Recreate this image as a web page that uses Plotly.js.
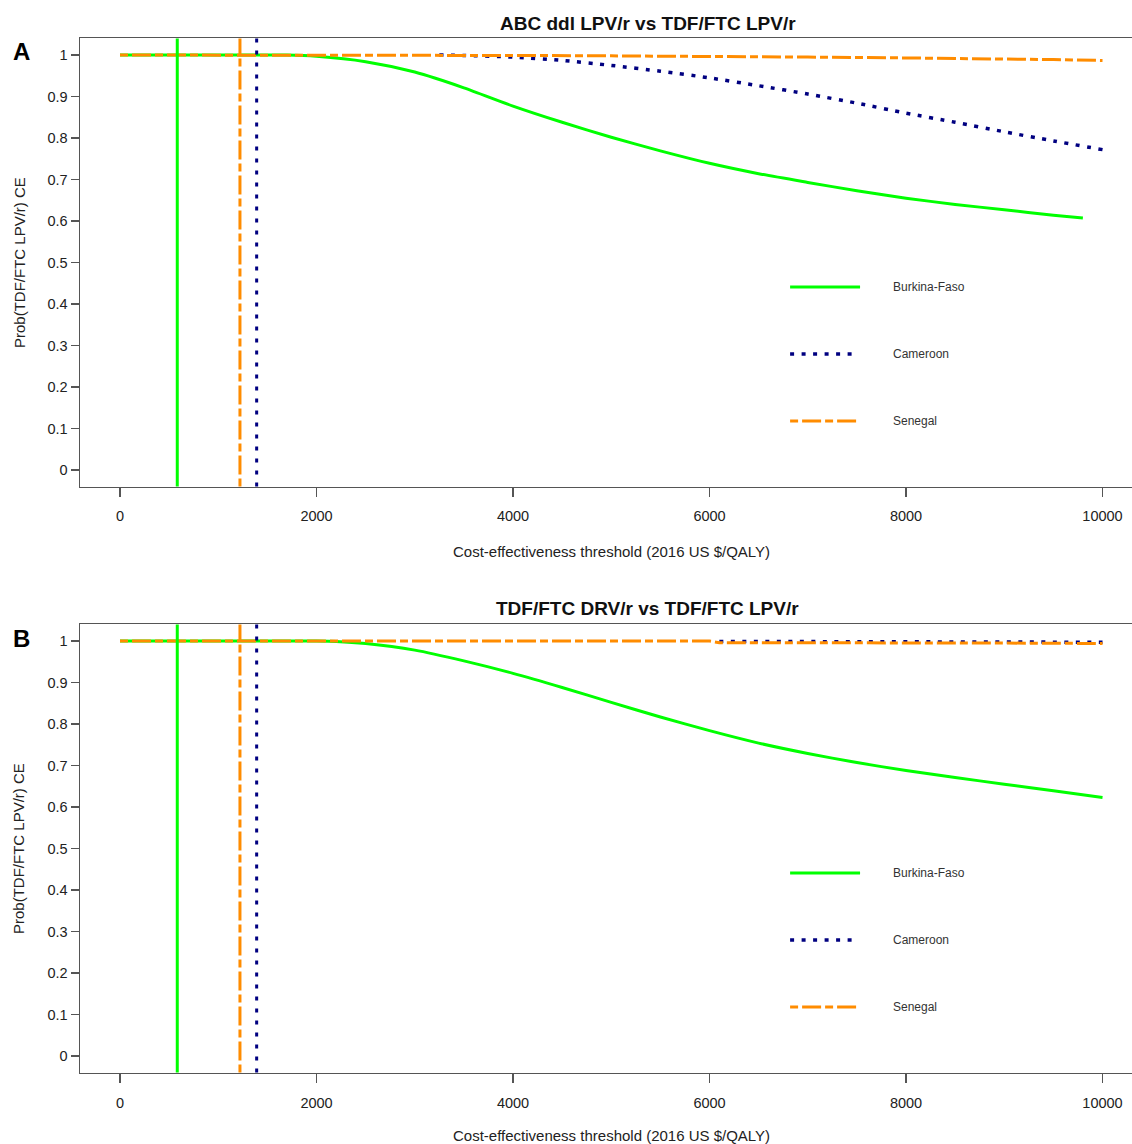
<!DOCTYPE html>
<html>
<head>
<meta charset="utf-8">
<script src="https://cdn.plot.ly/plotly-3.0.1.min.js"></script>
<style>
  html, body { margin: 0; padding: 0; background: #fff; }
  #chart { width: 1132px; height: 1144px; }
</style>
</head>
<body>
<div id="chart"></div>
<script>
// ---------- data ----------
const countries = ["Burkina-Faso", "Cameroon", "Senegal"];
const gdpThreshold = [583, 1391, 1221];   // vertical reference lines (US $)

const xTicks = [0, 2000, 4000, 6000, 8000, 10000];
const yTicks = [0, 0.1, 0.2, 0.3, 0.4, 0.5, 0.6, 0.7, 0.8, 0.9, 1];

const panelTitles = ["ABC ddl LPV/r vs TDF/FTC LPV/r", "TDF/FTC DRV/r vs TDF/FTC LPV/r"];
const panelLetters = ["A", "B"];

// Panel A
const thrA_BF = [0, 500, 1000, 1500, 1700, 2000, 2500, 3000, 3500, 4000, 4500, 5000, 5500, 6000, 6500, 7000, 7500, 8000, 8500, 9000, 9500, 9800];
const probA_BF = [1, 1, 1, 1, 1, 0.997, 0.984, 0.959, 0.921, 0.877, 0.838, 0.802, 0.769, 0.739, 0.714, 0.693, 0.673, 0.655, 0.640, 0.627, 0.614, 0.607];
const thrA_CM = [3250, 3500, 4000, 4500, 5000, 5500, 6000, 6500, 7000, 7500, 8000, 8500, 9000, 9500, 10000];
const probA_CM = [1, 0.999, 0.995, 0.987, 0.975, 0.961, 0.945, 0.926, 0.906, 0.884, 0.860, 0.838, 0.815, 0.793, 0.772];
const thrA_SN = [0, 1000, 2000, 3000, 4000, 5000, 6000, 7000, 8000, 9000, 9500, 10000];
const probA_SN = [1, 1, 1, 1, 0.999, 0.998, 0.997, 0.995, 0.993, 0.991, 0.989, 0.987];

// Panel B
const thrB_BF = [0, 500, 1000, 1500, 2000, 2200, 2500, 3000, 3500, 4000, 4500, 5000, 5500, 6000, 6500, 7000, 7500, 8000, 8500, 9000, 9500, 10000];
const probB_BF = [1, 1, 1, 1, 1, 0.999, 0.994, 0.978, 0.952, 0.922, 0.888, 0.852, 0.817, 0.784, 0.754, 0.729, 0.707, 0.688, 0.671, 0.655, 0.639, 0.623];
const thrB_CM = [6100, 7000, 8000, 9000, 10000];
const probB_CM = [0.999, 0.999, 0.999, 0.998, 0.997];
const thrB_SN = [0, 2000, 4000, 6000, 6100, 7000, 8000, 9000, 10000];
const probB_SN = [1, 1, 1, 1, 0.996, 0.996, 0.995, 0.995, 0.994];

// ---------- styles ----------
const GREEN = "#00FF00", NAVY = "#000080", ORANGE = "#FF8C00";
const styles = [
  { color: GREEN, width: 3, dash: "solid", shape: "spline" },
  { color: NAVY, width: 3.5, dash: "4px,7.5px", shape: "spline" },
  { color: ORANGE, width: 3, dash: "8px,4px,19px,4px", shape: "linear" }
];
const FONT = "Liberation Sans, Arial, sans-serif";

// page geometry (pixels)
const W = 1132, H = 1144, ML = 80;
const px2paperX = px => (px - ML) / (W - ML);
const px2paperY = py => 1 - py / H;

const panelData = [
  [[thrA_BF, probA_BF], [thrA_CM, probA_CM], [thrA_SN, probA_SN]],
  [[thrB_BF, probB_BF], [thrB_CM, probB_CM], [thrB_SN, probB_SN]]
];

const traces = [];
panelData.forEach((series, p) => {
  series.forEach((s, i) => {
    const shape = (p === 1 && i === 1) ? "linear" : styles[i].shape;
    traces.push({
      type: "scatter", mode: "lines",
      x: s[0], y: s[1],
      name: countries[i],
      xaxis: p === 0 ? "x" : "x2",
      yaxis: p === 0 ? "y" : "y2",
      line: { color: styles[i].color, width: styles[i].width, dash: styles[i].dash,
              shape: shape, smoothing: 0.7 },
      showlegend: false, hoverinfo: "skip"
    });
  });
});

const axisCommon = {
  showgrid: false, zeroline: false,
  showline: true, linecolor: "#555", linewidth: 1.5,
  ticks: "outside", tickcolor: "#555", tickwidth: 1.3,
  tickfont: { family: FONT, size: 14.5, color: "#222" }
};
const xAxis = Object.assign({}, axisCommon, {
  range: [-407, 10300], tickvals: xTicks, tickformat: "d",
  ticklen: 9, mirror: true, ticklabelstandoff: 7
});
const yAxis = Object.assign({}, axisCommon, {
  range: [-0.04, 1.04], tickvals: yTicks, ticklen: 8, mirror: false,
  ticklabelstandoff: 0
});

const yDomains = [[0.5747, 0.9664], [0.0624, 0.4542]];
const panelOffset = [0, 586];

const shapes = [];
const annotations = [];
[0, 1].forEach(p => {
  const xr = p === 0 ? "x" : "x2";
  const yr = p === 0 ? "y" : "y2";
  // vertical threshold lines
  gdpThreshold.forEach((g, i) => {
    shapes.push({
      type: "line", xref: xr, yref: yr + " domain",
      x0: g, x1: g, y0: 0, y1: 1,
      line: { color: styles[i].color, width: styles[i].width - (i === 1 ? 0.5 : 0),
              dash: i === 1 ? "4px,8px" : styles[i].dash }
    });
  });
  // manual legend
  const legY = [0.4453, 0.2958, 0.1464];
  const legX1 = [0.7415, 0.736, 0.738];
  countries.forEach((c, i) => {
    shapes.push({
      type: "line", xref: xr + " domain", yref: yr + " domain",
      x0: 0.675, x1: legX1[i], y0: legY[i], y1: legY[i],
      line: { color: styles[i].color, width: styles[i].width, dash: styles[i].dash }
    });
    annotations.push({
      xref: xr + " domain", yref: yr + " domain",
      x: 0.771, y: legY[i], xanchor: "left", yanchor: "middle",
      text: c, showarrow: false,
      font: { family: FONT, size: 12, color: "#333" }
    });
  });
  const off = panelOffset[p];
  // panel title
  annotations.push({
    xref: "paper", yref: "paper",
    x: px2paperX(647.5), y: px2paperY(23 + off), xanchor: "center", yanchor: "middle",
    text: "<b>" + panelTitles[p] + "</b>", showarrow: false,
    font: { family: FONT, size: 19, color: "#111" }
  });
  // panel letter
  annotations.push({
    xref: "paper", yref: "paper",
    x: px2paperX(21), y: px2paperY(52 + off), xanchor: "center", yanchor: "middle",
    text: "<b>" + panelLetters[p] + "</b>", showarrow: false,
    font: { family: FONT, size: 24, color: "#000" }
  });
  // x axis title
  annotations.push({
    xref: "paper", yref: "paper",
    x: px2paperX(611), y: px2paperY((p === 0 ? 551 : 1135)), xanchor: "center", yanchor: "middle",
    text: "Cost-effectiveness threshold (2016 US $/QALY)", showarrow: false,
    font: { family: FONT, size: 15, color: "#222" }
  });
  // y axis title
  annotations.push({
    xref: "paper", yref: "paper",
    x: px2paperX(19), y: px2paperY(263 + off), xanchor: "center", yanchor: "middle",
    text: "Prob(TDF/FTC LPV/r) CE", showarrow: false, textangle: -90,
    font: { family: FONT, size: 15, color: "#222" }
  });
});

const layout = {
  width: W, height: H,
  margin: { l: ML, r: 0, t: 0, b: 0 },
  paper_bgcolor: "#fff", plot_bgcolor: "#fff",
  showlegend: false,
  xaxis: Object.assign({}, xAxis, { anchor: "y" }),
  yaxis: Object.assign({}, yAxis, { domain: yDomains[0], anchor: "x" }),
  xaxis2: Object.assign({}, xAxis, { anchor: "y2" }),
  yaxis2: Object.assign({}, yAxis, { domain: yDomains[1], anchor: "x2" }),
  shapes: shapes,
  annotations: annotations
};

Plotly.newPlot("chart", traces, layout, { displayModeBar: false, staticPlot: true });
</script>
</body>
</html>
